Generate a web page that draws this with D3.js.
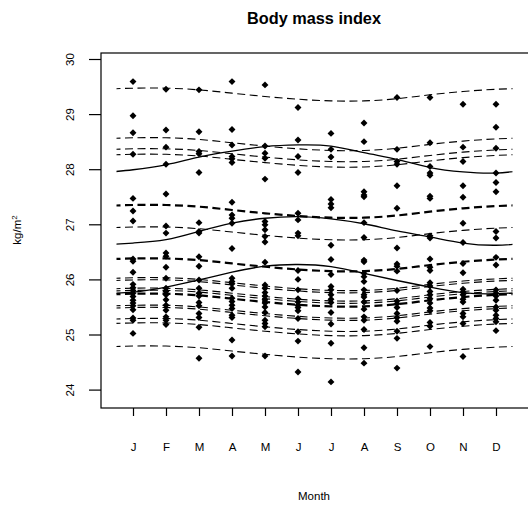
<!DOCTYPE html>
<html><head><meta charset="utf-8">
<script src="https://cdn.jsdelivr.net/npm/d3@7"></script>
<style>body{margin:0;background:#fff}svg{display:block;font-family:"Liberation Sans",Arial,sans-serif}</style>
</head><body>
<svg id="c" width="528" height="510"></svg>
<script>
const months = ["J","F","M","A","M","J","J","A","S","O","N","D"];
const yTicks = [24,25,26,27,28,29,30];

// dashed fitted curves (values at J..D)
const dash01 = [29.47,29.47,29.44,29.38,29.32,29.27,29.24,29.24,29.28,29.35,29.41,29.45];
const dash02 = [28.57,28.57,28.54,28.48,28.42,28.37,28.34,28.34,28.38,28.45,28.51,28.55];
const dash03 = [28.37,28.37,28.34,28.28,28.22,28.17,28.14,28.14,28.18,28.25,28.31,28.35];
const dash04 = [28.27,28.27,28.24,28.18,28.12,28.07,28.04,28.04,28.08,28.15,28.21,28.25];
const dash05 = [27.35,27.35,27.32,27.26,27.20,27.15,27.12,27.12,27.16,27.23,27.29,27.33];
const dash06 = [26.95,26.95,26.92,26.86,26.80,26.75,26.72,26.72,26.76,26.83,26.89,26.93];
const dash07 = [26.38,26.38,26.35,26.29,26.23,26.18,26.15,26.15,26.19,26.26,26.32,26.36];
const dash08 = [26.03,26.03,26.00,25.94,25.88,25.83,25.80,25.80,25.84,25.91,25.97,26.01];
const dash09 = [25.99,25.99,25.96,25.90,25.84,25.79,25.76,25.76,25.80,25.87,25.93,25.97];
const dash10 = [25.84,25.84,25.81,25.75,25.69,25.64,25.61,25.61,25.65,25.72,25.78,25.82];
const dash11 = [25.80,25.80,25.77,25.71,25.65,25.60,25.57,25.57,25.61,25.68,25.74,25.78];
const dash12 = [25.74,25.74,25.71,25.65,25.59,25.54,25.51,25.51,25.55,25.62,25.68,25.72];
const dash13 = [25.53,25.53,25.50,25.44,25.38,25.33,25.30,25.30,25.34,25.41,25.47,25.51];
const dash14 = [25.49,25.49,25.46,25.40,25.34,25.29,25.26,25.26,25.30,25.37,25.43,25.47];
const dash15 = [25.29,25.29,25.26,25.20,25.14,25.09,25.06,25.06,25.10,25.17,25.23,25.27];
const dash16 = [25.21,25.21,25.18,25.12,25.06,25.01,24.98,24.98,25.02,25.09,25.15,25.19];
const dash17 = [24.79,24.79,24.76,24.70,24.64,24.59,24.56,24.56,24.60,24.67,24.73,24.77];
const thinDashed = [dash01,dash02,dash03,dash04,dash06,dash08,dash09,dash10,dash11,dash13,dash14,dash15,dash16,dash17];
const thickDashed = [dash05,dash07,dash12];

// solid seasonal curves
const solid1 = [27.99,28.08,28.22,28.33,28.41,28.44,28.42,28.30,28.18,28.03,27.95,27.93];
const solid2 = [26.66,26.72,26.87,27.02,27.11,27.14,27.10,27.01,26.88,26.77,26.66,26.62];
const solid3 = [25.77,25.86,25.99,26.13,26.24,26.27,26.23,26.11,25.98,25.86,25.76,25.74];
const solids = [solid1,solid2,solid3];

// observed points per month
const ptsJan = [29.59,28.97,28.66,28.27,27.47,27.24,27.06,26.37,26.33,26.13,25.91,25.85,25.80,25.75,25.69,25.62,25.57,25.52,25.45,25.30,25.26,25.02];
const ptsFeb = [29.45,28.71,28.40,28.09,27.55,26.97,26.84,26.48,26.42,26.22,26.02,25.84,25.78,25.72,25.63,25.53,25.44,25.32,25.26,25.18];
const ptsMar = [29.44,28.68,28.32,28.28,27.94,27.03,26.87,26.84,26.41,26.24,25.99,25.84,25.75,25.70,25.58,25.52,25.38,25.31,25.13,24.57];
const ptsApr = [29.59,28.72,28.44,28.23,28.19,28.12,27.40,27.17,27.11,27.02,26.56,26.02,25.96,25.92,25.84,25.66,25.60,25.53,25.47,25.35,25.31,24.90,24.61];
const ptsMay = [29.53,28.42,28.29,28.20,27.82,27.05,26.99,26.90,26.78,26.68,26.31,25.90,25.84,25.76,25.70,25.63,25.57,25.50,25.40,25.26,25.20,25.14,24.61];
const ptsJun = [29.12,28.53,28.23,27.94,27.20,27.08,26.84,26.79,26.16,26.00,25.81,25.65,25.59,25.53,25.49,25.43,25.29,25.05,24.88,24.32];
const ptsJul = [28.65,28.36,28.22,27.45,27.37,27.30,26.62,26.36,26.09,25.87,25.81,25.72,25.64,25.58,25.40,25.19,24.84,24.14];
const ptsAug = [28.84,28.50,27.59,27.53,27.50,27.03,26.76,26.35,26.32,26.11,26.05,25.96,25.81,25.72,25.68,25.59,25.46,25.32,25.26,25.09,24.76,24.48];
const ptsSep = [29.30,28.36,28.14,28.09,27.70,27.29,26.57,26.28,26.24,26.15,25.80,25.61,25.56,25.49,25.38,25.31,25.24,25.06,24.93,24.39];
const ptsOct = [29.30,28.48,28.05,27.93,27.89,27.51,27.47,26.79,26.75,26.37,26.22,26.16,25.94,25.88,25.78,25.72,25.65,25.57,25.48,25.43,25.22,25.15,24.78];
const ptsNov = [29.18,28.40,28.14,27.70,27.49,27.02,26.67,26.29,26.12,25.82,25.77,25.72,25.64,25.59,25.38,25.32,25.20,24.60];
const ptsDec = [29.18,28.76,28.38,27.93,27.76,27.59,26.87,26.75,26.40,26.26,25.81,25.75,25.70,25.62,25.50,25.44,25.35,25.29,25.23,25.07];
const monthPoints = [ptsJan,ptsFeb,ptsMar,ptsApr,ptsMay,ptsJun,ptsJul,ptsAug,ptsSep,ptsOct,ptsNov,ptsDec];

const svg = d3.select("#c");
const box = {left:101, right:531, top:53, bottom:408};
const x = d3.scaleLinear().domain([0.5,12.5]).range([116.5,512.5]);
const y = d3.scaleLinear().domain([24,30]).range([389.6,59]);

// clip for curves (periodic curves shown from mid-Dec to mid-Jan)
svg.append("defs").append("clipPath").attr("id","clipc")
  .append("rect").attr("x",x(0.5)).attr("y",box.top).attr("width",x(12.5)-x(0.5)).attr("height",box.bottom-box.top);

const line = d3.line().x(d=>x(d.m)).y(d=>y(d.v)).curve(d3.curveNatural);
function ext(vals){
  const pts = vals.map((v,i)=>({m:i+1,v}));
  return [{m:0,v:vals[11]}, ...pts, {m:13,v:vals[0]}];
}
const curves = svg.append("g").attr("clip-path","url(#clipc)").attr("fill","none").attr("stroke","#000");
curves.selectAll("path.thin").data(thinDashed).join("path").attr("class","thin")
  .attr("d",d=>line(ext(d))).attr("stroke-width",1.1).attr("stroke-dasharray","8,4.5");
curves.selectAll("path.thick").data(thickDashed).join("path").attr("class","thick")
  .attr("d",d=>line(ext(d))).attr("stroke-width",2.2).attr("stroke-dasharray","8,4.5");
curves.selectAll("path.solid").data(solids).join("path").attr("class","solid")
  .attr("d",d=>line(ext(d))).attr("stroke-width",1.3);

// points
const sym = d3.symbol().type(d3.symbolSquare).size(24)();
const pts = monthPoints.flatMap((arr,i)=>arr.map(v=>({m:i+1,v})));
svg.append("g").selectAll("path").data(pts).join("path")
  .attr("d",sym).attr("fill","#000")
  .attr("transform",d=>`translate(${x(d.m)},${y(d.v)}) rotate(45)`);

// box
svg.append("rect").attr("x",box.left).attr("y",box.top).attr("width",box.right-box.left)
  .attr("height",box.bottom-box.top).attr("fill","none").attr("stroke","#000").attr("stroke-width",1.2);

// y axis
const ya = svg.append("g").attr("transform",`translate(${box.left},0)`)
  .call(d3.axisLeft(y).tickValues(yTicks).tickSize(12).tickFormat(d3.format("d")));
ya.select(".domain").remove();
ya.selectAll(".tick line").attr("stroke-width",1.2);
ya.selectAll(".tick text").attr("x",0).attr("y",-31).attr("dy","0.35em")
  .attr("transform","rotate(-90)").attr("text-anchor","middle")
  .attr("font-size",11.5).attr("font-family","Liberation Sans, Arial, sans-serif").attr("fill","#000");

// x axis
const xa = svg.append("g").attr("transform",`translate(0,${box.bottom})`)
  .call(d3.axisBottom(x).tickValues(d3.range(1,13)).tickSize(8).tickFormat((d,i)=>months[i]));
xa.select(".domain").remove();
xa.selectAll(".tick line").attr("stroke-width",1.2);
xa.selectAll(".tick text").attr("y",39).attr("dy","0.35em")
  .attr("font-size",11.5).attr("font-family","Liberation Sans, Arial, sans-serif").attr("fill","#000");

// titles
svg.append("text").attr("x",314).attr("y",24).attr("text-anchor","middle")
  .attr("font-size",16.3).attr("font-weight","bold").text("Body mass index");
svg.append("text").attr("x",314).attr("y",500).attr("text-anchor","middle")
  .attr("font-size",11.5).text("Month");
const yl = svg.append("text").attr("transform","translate(21,230) rotate(-90)")
  .attr("text-anchor","middle").attr("font-size",11.5);
yl.append("tspan").text("kg/m");
yl.append("tspan").attr("dy","-0.5em").attr("font-size",8).text("2");
</script>
</body></html>
